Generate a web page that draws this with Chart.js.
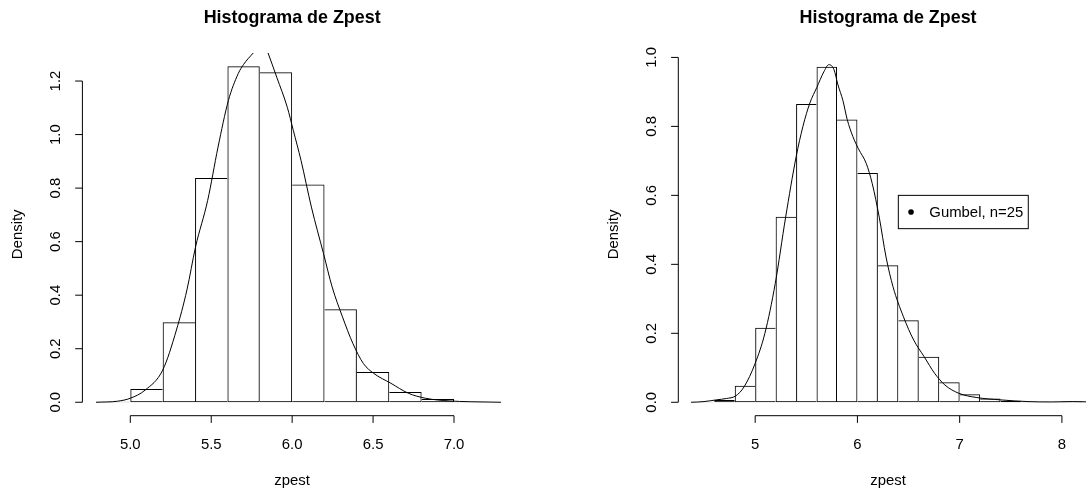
<!DOCTYPE html>
<html>
<head>
<meta charset="utf-8">
<title>Histograma de Zpest</title>
<script src="https://cdn.jsdelivr.net/npm/chart.js@4.4.1/dist/chart.umd.min.js"></script>
<style>
  html, body { margin: 0; padding: 0; background: #fff; overflow: hidden; }
  #wrap { position: relative; width: 1086px; height: 493px; overflow: hidden; }
  canvas { position: absolute; top: 0; }
  #left { left: 0; }
  #right { left: 543px; }
</style>
</head>
<body>
<div id="wrap">
  <canvas id="left" width="543" height="493"></canvas>
  <canvas id="right" width="600" height="493"></canvas>
</div>
<script>
// histogram breaks and densities
const leftBreaks = [4.8, 5.0, 5.2, 5.4, 5.6, 5.8, 6.0, 6.2, 6.4, 6.6, 6.8, 7.0, 7.2];
const leftDensity = [0.002, 0.0496, 0.2985, 0.838, 1.2549, 1.2325, 0.8134, 0.347, 0.113, 0.0384, 0.012, 0.001];

const rightBreaks = [4.4, 4.6, 4.8, 5.0, 5.2, 5.4, 5.6, 5.8, 6.0, 6.2, 6.4, 6.6, 6.8, 7.0, 7.2, 7.4, 7.6, 7.8, 8.0, 8.2];
const rightDensity = [0.001, 0.0067, 0.048, 0.216, 0.538, 0.865, 0.973, 0.820, 0.665, 0.397, 0.238, 0.132,
  0.058, 0.023, 0.011, 0.004, 0.001, 0.0005, 0.002];

// kernel density estimates
const leftCurveX = [4.788, 4.922, 5.0, 5.093, 5.2, 5.285, 5.35, 5.403, 5.478, 5.542, 5.606, 5.667, 5.70, 5.73,
  5.76, 5.79, 5.815, 5.835, 5.851, 5.905, 5.97, 6.007, 6.055, 6.119, 6.194, 6.247, 6.311, 6.375, 6.44, 6.504,
  6.61, 6.717, 6.824, 6.97, 7.1, 7.29];
const leftCurveY = [0, 0.004, 0.015, 0.046, 0.12, 0.27, 0.42, 0.58, 0.754, 0.953, 1.127, 1.228, 1.262, 1.285,
  1.305, 1.33, 1.34, 1.33, 1.305, 1.214, 1.102, 1.016, 0.903, 0.729, 0.555, 0.431, 0.319, 0.22, 0.145, 0.108,
  0.071, 0.034, 0.015, 0.005, 0.002, 0];

const rightCurveX = [4.373, 4.5, 4.621, 4.72, 4.807, 4.892, 5.0, 5.095, 5.196, 5.298, 5.40, 5.467, 5.535, 5.603,
  5.671, 5.721, 5.77, 5.81, 5.858, 5.90, 5.956, 6.01, 6.087, 6.145, 6.213, 6.28, 6.348, 6.45, 6.551, 6.653,
  6.755, 6.856, 6.992, 7.161, 7.398, 7.669, 7.9, 8.1, 8.3];
const rightCurveY = [0, 0.002, 0.007, 0.011, 0.018, 0.045, 0.113, 0.2, 0.344, 0.537, 0.711, 0.80, 0.868, 0.913,
  0.958, 0.979, 0.965, 0.92, 0.875, 0.82, 0.77, 0.735, 0.692, 0.634, 0.537, 0.421, 0.335, 0.248, 0.18, 0.132,
  0.084, 0.05, 0.026, 0.014, 0.007, 0.002, 0.001, 0.002, 0.001];

// axis ticks
const leftXTicks = ["5.0", "5.5", "6.0", "6.5", "7.0"];
const leftYTicks = ["0.0", "0.2", "0.4", "0.6", "0.8", "1.0", "1.2"];
const rightXTicks = ["5", "6", "7", "8"];
const rightYTicks = ["0.0", "0.2", "0.4", "0.6", "0.8", "1.0"];

const titleText = "Histograma de Zpest";
const xTitle = "zpest";
const yTitle = "Density";
const legendText = "Gumbel, n=25";
const legendAt = [6.4, 0.6];

const FONT = '"Liberation Sans", Arial, Helvetica, sans-serif';
const LABEL_SIZE = 14.9;
const TITLE_SIZE = 17.9;

// R style: axis range padded by 4% on each side
function extend(lo, hi) {
  const d = (hi - lo) * 0.04;
  return [lo - d, hi + d];
}

function barPoints(breaks, dens) {
  return dens.map((d, i) => ({ x: (breaks[i] + breaks[i + 1]) / 2, y: d }));
}

// only one of two neighbouring bars draws the shared edge (the taller one)
function edgeWidths(dens) {
  return function (ctx) {
    const i = ctx.dataIndex;
    const v = dens[i];
    const prev = i > 0 ? dens[i - 1] : -1;
    const next = i < dens.length - 1 ? dens[i + 1] : -1;
    return { top: 1, bottom: 1, left: prev <= v ? 1 : 0, right: next < v ? 1 : 0 };
  };
}

const rAxes = {
  id: "rAxes",
  afterDraw(chart, args, opts) {
    const ctx = chart.ctx;
    const area = chart.chartArea;
    const xs = chart.scales.x;
    const ys = chart.scales.y;
    const tick = 7.2;
    ctx.save();
    ctx.strokeStyle = "#000";
    ctx.fillStyle = "#000";
    ctx.lineWidth = 1;

    // x axis
    const xp = xs.ticks.map((t) => xs.getPixelForValue(t.value));
    const yb = area.bottom;
    ctx.beginPath();
    ctx.moveTo(xp[0], yb);
    ctx.lineTo(xp[xp.length - 1], yb);
    xp.forEach((p) => {
      ctx.moveTo(p, yb);
      ctx.lineTo(p, yb + tick);
    });
    ctx.stroke();
    ctx.font = LABEL_SIZE + "px " + FONT;
    ctx.textAlign = "center";
    ctx.textBaseline = "alphabetic";
    xp.forEach((p, i) => ctx.fillText(opts.xLabels[i], p, yb + 33.6));

    // y axis
    const yp = ys.ticks.map((t) => ys.getPixelForValue(t.value));
    const xl = area.left;
    ctx.beginPath();
    ctx.moveTo(xl, yp[0]);
    ctx.lineTo(xl, yp[yp.length - 1]);
    yp.forEach((p) => {
      ctx.moveTo(xl, p);
      ctx.lineTo(xl - tick, p);
    });
    ctx.stroke();
    yp.forEach((p, i) => {
      ctx.save();
      ctx.translate(xl - 22.7, p);
      ctx.rotate(-Math.PI / 2);
      ctx.fillText(opts.yLabels[i], 0, 0);
      ctx.restore();
    });

    // titles
    const cx = (area.left + area.right) / 2;
    ctx.fillText(xTitle, cx, 485);
    ctx.save();
    ctx.translate(xl - 60, (area.top + area.bottom) / 2);
    ctx.rotate(-Math.PI / 2);
    ctx.fillText(yTitle, 0, 0);
    ctx.restore();
    ctx.font = "bold " + TITLE_SIZE + "px " + FONT;
    ctx.fillText(titleText, cx, 22.8);

    // legend box
    if (opts.legend) {
      ctx.font = LABEL_SIZE + "px " + FONT;
      const lx = xs.getPixelForValue(opts.legend.at[0]);
      const ly = ys.getPixelForValue(opts.legend.at[1]);
      const w = 31 + ctx.measureText(opts.legend.text).width + 5;
      const h = 33.3;
      ctx.strokeRect(lx, ly, w, h);
      ctx.beginPath();
      ctx.arc(lx + 12.7, ly + h / 2, 2.8, 0, Math.PI * 2);
      ctx.fill();
      ctx.textAlign = "left";
      ctx.fillText(opts.legend.text, lx + 31, ly + h / 2 + 5.3);
    }
    ctx.restore();
  }
};

function makeChart(canvasId, breaks, dens, curveX, curveY, xTicks, yTicks, padding, legend) {
  const xr = extend(breaks[0], breaks[breaks.length - 1]);
  const yr = extend(0, Math.max(...dens));
  const xTickVals = xTicks.map(parseFloat);
  const yTickVals = yTicks.map(parseFloat);
  return new Chart(document.getElementById(canvasId), {
    type: "bar",
    data: {
      datasets: [
        {
          type: "line",
          data: curveX.map((x, i) => ({ x: x, y: curveY[i] })),
          borderColor: "#000",
          borderWidth: 1,
          pointRadius: 0,
          fill: false,
          cubicInterpolationMode: "monotone",
          order: 0
        },
        {
          type: "bar",
          data: barPoints(breaks, dens),
          backgroundColor: "rgba(255,255,255,0)",
          borderColor: "#000",
          borderWidth: edgeWidths(dens),
          borderSkipped: false,
          inflateAmount: 0,
          barPercentage: 1,
          categoryPercentage: 1,
          order: 1
        }
      ]
    },
    options: {
      responsive: false,
      animation: false,
      events: [],
      layout: { padding: padding },
      plugins: {
        legend: { display: false },
        tooltip: { enabled: false },
        rAxes: { xLabels: xTicks, yLabels: yTicks, legend: legend }
      },
      scales: {
        x: {
          type: "linear",
          min: xr[0],
          max: xr[1],
          offset: false,
          display: false,
          afterBuildTicks: (s) => { s.ticks = xTickVals.map((v) => ({ value: v })); }
        },
        y: {
          type: "linear",
          min: yr[0],
          max: yr[1],
          display: false,
          afterBuildTicks: (s) => { s.ticks = yTickVals.map((v) => ({ value: v })); }
        }
      }
    },
    plugins: [rAxes]
  });
}

makeChart("left", leftBreaks, leftDensity, leftCurveX, leftCurveY, leftXTicks, leftYTicks,
  { left: 82.4, right: 41.1, top: 52.9, bottom: 77.3 }, null);

makeChart("right", rightBreaks, rightDensity, rightCurveX, rightCurveY, rightXTicks, rightYTicks,
  { left: 135.3, right: 45.1, top: 53.3, bottom: 77.3 }, { text: legendText, at: legendAt });
</script>
</body>
</html>
